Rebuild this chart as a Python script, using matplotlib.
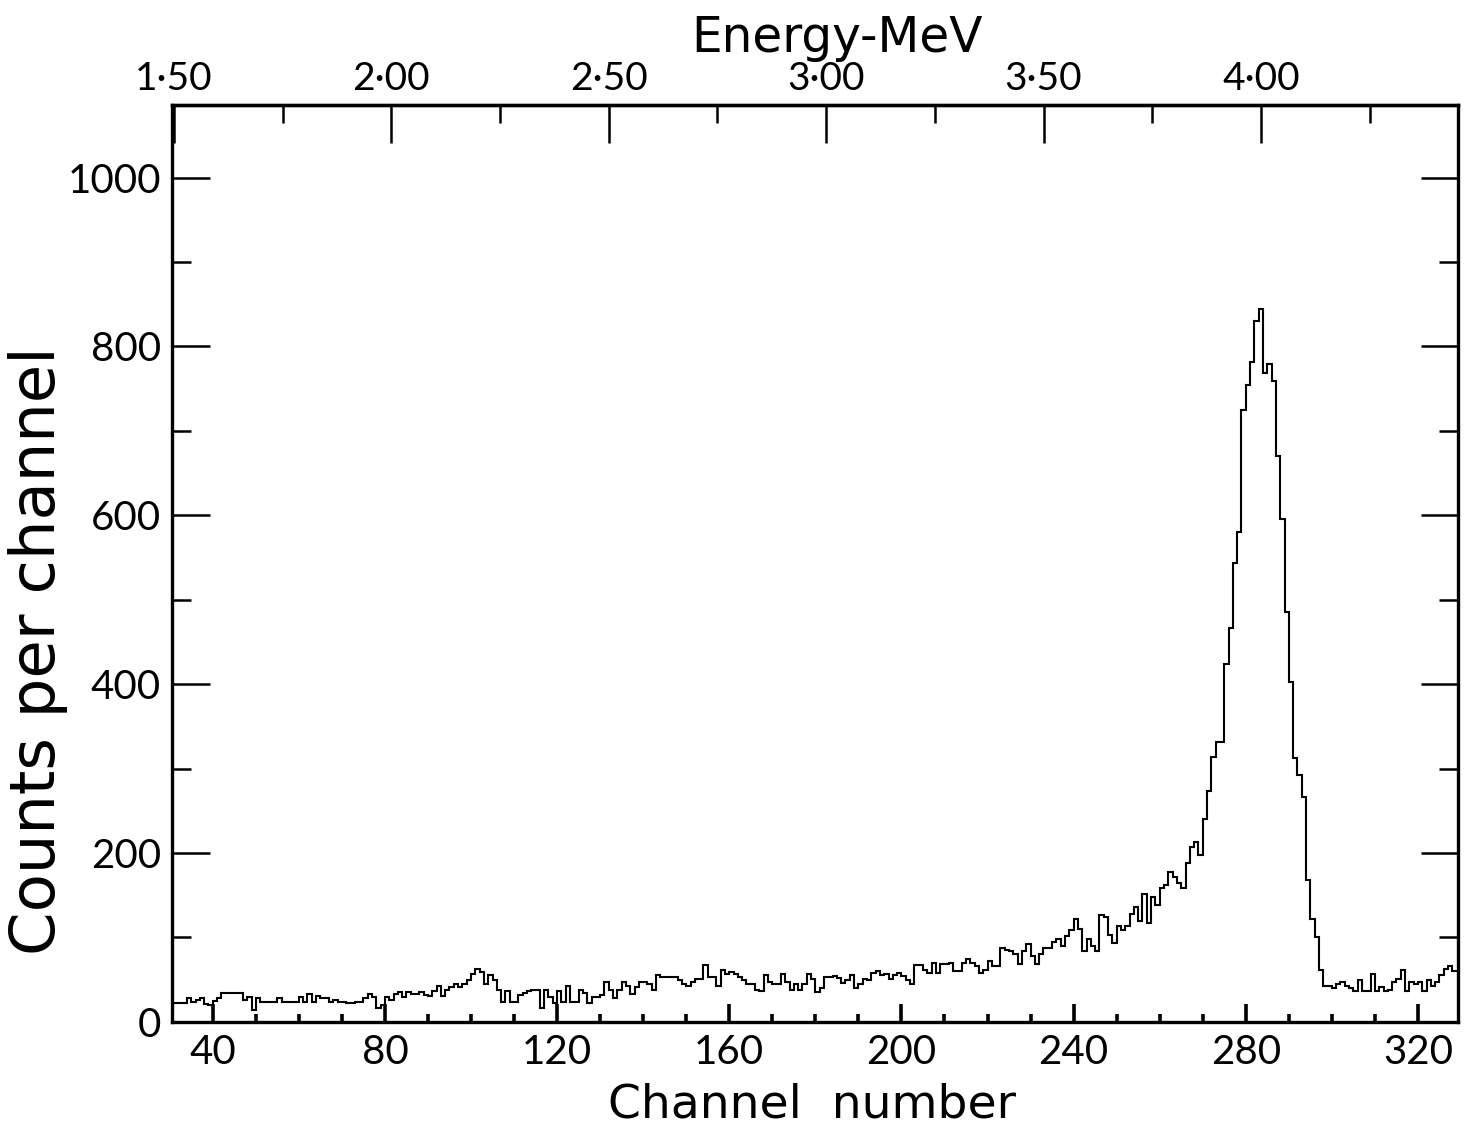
"""Pulse-height spectrum: counts per channel with energy scale on top."""

import matplotlib
matplotlib.use("Agg")
import matplotlib.pyplot as plt
import numpy as np

# ---- data ----
first_channel = 30

# channels 30-129
counts_low = [
    22, 22, 22, 22, 28, 24, 26, 28, 21, 20,
    25, 28, 34, 34, 34, 34, 34, 26, 30, 14,
    28, 24, 24, 24, 24, 28, 24, 24, 24, 24,
    30, 24, 33, 24, 31, 28, 28, 24, 26, 24,
    24, 22, 22, 24, 24, 28, 33, 30, 16, 20,
    30, 26, 33, 35, 30, 35, 33, 33, 35, 32,
    31, 37, 43, 31, 38, 41, 45, 41, 45, 49,
    57, 63, 59, 45, 55, 50, 38, 24, 36, 24,
    24, 32, 34, 36, 38, 38, 16, 38, 30, 22,
    36, 24, 42, 24, 24, 38, 34, 22, 30, 30,
]
# channels 130-229
counts_mid = [
    32, 47, 38, 28, 38, 47, 43, 33, 41, 47,
    47, 45, 38, 55, 53, 53, 53, 53, 49, 45,
    43, 47, 51, 51, 67, 53, 53, 43, 61, 57,
    59, 57, 53, 49, 45, 45, 38, 36, 55, 47,
    45, 45, 57, 47, 38, 45, 38, 45, 57, 51,
    35, 40, 53, 53, 54, 52, 46, 50, 55, 40,
    45, 51, 49, 58, 60, 55, 57, 51, 55, 58,
    54, 50, 45, 67, 67, 62, 58, 70, 58, 68,
    68, 70, 60, 60, 70, 74, 70, 66, 58, 62,
    72, 66, 66, 88, 85, 84, 80, 68, 84, 92,
]
# channels 230-329
counts_high = [
    78, 68, 80, 88, 88, 94, 98, 90, 102, 109,
    122, 110, 84, 98, 90, 84, 126, 124, 103, 93,
    113, 109, 113, 128, 136, 119, 152, 117, 148, 138,
    158, 162, 178, 172, 164, 158, 188, 207, 213, 198,
    240, 273, 314, 331, 331, 424, 467, 544, 580, 725,
    754, 781, 830, 844, 768, 779, 759, 670, 596, 485,
    403, 312, 292, 266, 168, 122, 101, 61, 42, 42,
    40, 45, 47, 43, 40, 37, 49, 36, 37, 57,
    37, 41, 37, 38, 47, 51, 61, 37, 47, 45,
    47, 37, 50, 43, 47, 55, 63, 66, 60, 60,
]

channel_ticks = [40, 80, 120, 160, 200, 240, 280, 320]
count_ticks = [0, 200, 400, 600, 800, 1000]
energy_ticks = [1.50, 2.00, 2.50, 3.00, 3.50, 4.00]
energy_minor = [1.75, 2.25, 2.75, 3.25, 3.75, 4.25]

# energy calibration: 1.50 MeV at channel 31, ~0.0099 MeV per channel
cal_channel = 31.0
cal_energy = 1.50
mev_per_channel = 0.0099

counts = np.array(counts_low + counts_mid + counts_high, dtype=float)
edges = np.arange(first_channel, first_channel + len(counts) + 1)

plt.rcParams["font.family"] = ["Lato", "DejaVu Sans"]
LABEL_FONT = ["DejaVu Sans"]

fig = plt.figure(figsize=(14.69, 11.31), dpi=100)
ax = fig.add_axes([0.117, 0.0965, 0.8755, 0.8107])

ax.stairs(counts, edges, color="black", linewidth=1.5)

ax.set_xlim(30.5, 329.3)
ax.set_ylim(0, 1086)

# ---- axes styling ----
for sp in ax.spines.values():
    sp.set_linewidth(2.4)

ax.set_xticks(channel_ticks)
ax.set_xticks(np.arange(40, 330, 10), minor=True)
ax.set_yticks(count_ticks)
ax.set_yticks(np.arange(100, 1001, 200), minor=True)
ax.set_yticklabels([str(v) for v in count_ticks])

ax.tick_params(axis="x", which="major", direction="in", length=13, width=2.6,
               labelsize=29, pad=9, top=False)
ax.tick_params(axis="x", which="minor", direction="in", length=6, width=2.6,
               top=False)
ax.tick_params(axis="y", which="major", direction="in", length=27, width=1.8,
               labelsize=29, pad=8, right=True)
ax.tick_params(axis="y", which="minor", direction="in", length=14, width=1.8,
               right=True)


def ch_to_mev(ch):
    return cal_energy + (np.asarray(ch) - cal_channel) * mev_per_channel


def mev_to_ch(e):
    return cal_channel + (np.asarray(e) - cal_energy) / mev_per_channel


secax = ax.secondary_xaxis("top", functions=(ch_to_mev, mev_to_ch))
secax.spines["top"].set_linewidth(2.4)
secax.set_xticks(energy_ticks)
secax.set_xticks(energy_minor, minor=True)
secax.set_xticklabels([f"{e:.2f}".replace(".", "\u00b7") for e in energy_ticks])
secax.tick_params(axis="x", which="major", direction="in", length=27, width=1.8,
                  labelsize=28, pad=6)
secax.tick_params(axis="x", which="minor", direction="in", length=13, width=1.8)

ax.set_xlabel("Channel  number", fontsize=34, family=LABEL_FONT)
ax.xaxis.set_label_coords(0.498, -0.066)
ax.set_ylabel("Counts per channel", fontsize=45, family=LABEL_FONT)
ax.yaxis.set_label_coords(-0.081, 0.405)
ax.text(0.517, 1.073, "Energy-MeV", transform=ax.transAxes, fontsize=35,
        family=LABEL_FONT, ha="center", va="center")

fig.savefig("out.png", dpi=100, facecolor="white")
plt.close(fig)
